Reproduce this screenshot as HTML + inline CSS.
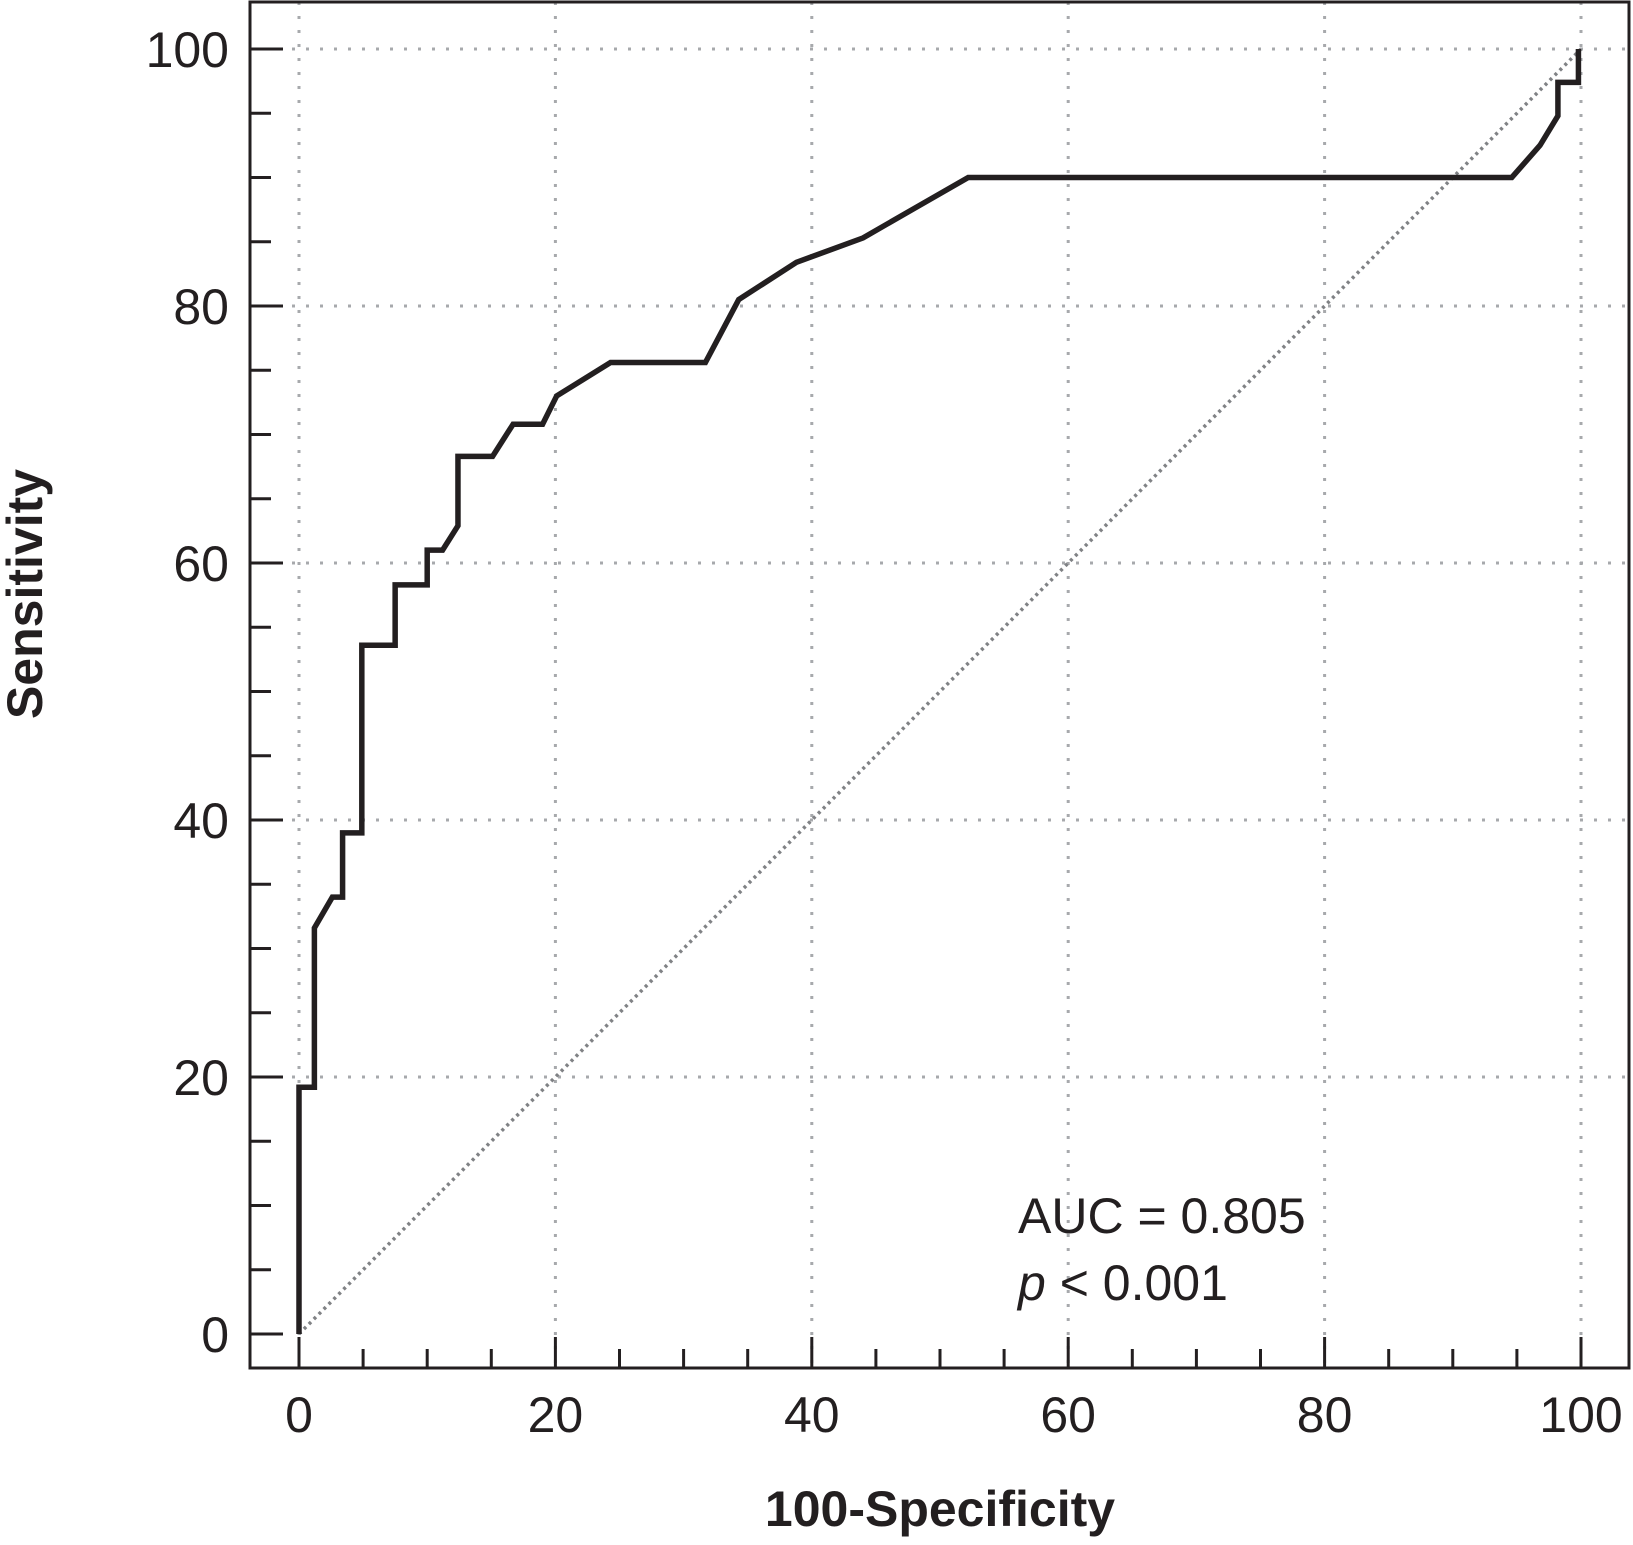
<!DOCTYPE html>
<html><head><meta charset="utf-8"><style>
html,body{margin:0;padding:0;background:#fff}
svg{display:block}
text{font-family:"Liberation Sans",sans-serif;fill:#231f20}
</style></head><body>
<svg id="chart" width="1633" height="1545" viewBox="0 0 1633 1545" xmlns="http://www.w3.org/2000/svg"></svg>
<script>
const xTicks=[0,20,40,60,80,100];
const yTicks=[0,20,40,60,80,100];
const rocX=[0,0,1.2,1.2,2.6,3.4,3.4,4.9,4.9,7.5,7.5,10,10,11.2,12.4,12.4,15.1,16.7,19,20.1,24.3,31.7,34.3,38.8,44,48,52.2,94.6,96.8,98.2,98.2,99.8,99.8];
const rocY=[0,19.2,19.2,31.6,34,34,39,39,53.6,53.6,58.3,58.3,61,61,62.9,68.3,68.3,70.8,70.8,73,75.6,75.6,80.5,83.4,85.3,87.6,90,90,92.5,94.8,97.4,97.4,100];
const refX=[0,100];
const refY=[0,100];
const svg=document.getElementById('chart');
const NS='http://www.w3.org/2000/svg';
const X=v=>299+v*12.82;
const Y=v=>1334-v*12.85;
function mk(t,a){const e=document.createElementNS(NS,t);for(const k in a)e.setAttribute(k,a[k]);svg.appendChild(e);return e;}
// grid
xTicks.forEach(v=>{const l=mk('line',{x1:X(v),x2:X(v),y1:2,y2:1368,stroke:'#a7a9ac','stroke-width':3,'stroke-dasharray':'3 11'});

});
yTicks.forEach(v=>{if(v===0)return;const l=mk('line',{x1:250,x2:1629,y1:Y(v),y2:Y(v),stroke:'#a7a9ac','stroke-width':3,'stroke-dasharray':'3 11'});

});
// reference diagonal
const d=mk('line',{x1:X(refX[0]),y1:Y(refY[0]),x2:X(refX[1]),y2:Y(refY[1]),stroke:'#808285','stroke-width':3.5,'stroke-dasharray':'3 4'});


// frame
const f=mk('rect',{x:250,y:2,width:1379,height:1366,fill:'none',stroke:'#231f20','stroke-width':3});


// ticks
for(let v=0;v<=100;v+=5){const maj=v%20===0;
const t=mk('line',{x1:X(v),x2:X(v),y1:1368,y2:maj?1337:1349,stroke:'#231f20','stroke-width':3});


const u=mk('line',{x1:250,x2:maj?283:271,y1:Y(v),y2:Y(v),stroke:'#231f20','stroke-width':3});

}
xTicks.forEach(v=>{const t=mk('text',{x:X(v),y:1432,'text-anchor':'middle','font-size':50});t.textContent=v;

});
yTicks.forEach(v=>{const t=mk('text',{x:229,y:Y(v)+18,'text-anchor':'end','font-size':50});t.textContent=v;

});
// ROC curve
const p=mk('polyline',{points:rocX.map((x,i)=>X(x)+','+Y(rocY[i])).join(' '),fill:'none',stroke:'#231f20','stroke-width':5.5,'stroke-linejoin':'miter'});


// titles
let t=mk('text',{x:940,y:1526,'text-anchor':'middle','font-size':50,'font-weight':'bold'});t.textContent='100-Specificity';


t=mk('text',{x:0,y:0,'text-anchor':'middle','font-size':50,'font-weight':'bold',transform:'translate(42,594) rotate(-90)'});t.textContent='Sensitivity';


t=mk('text',{x:1018,y:1233,'font-size':50});t.textContent='AUC = 0.805';


t=mk('text',{x:1018,y:1300,'font-size':50});t.innerHTML='<tspan font-style="italic">p</tspan> &lt; 0.001';


</script>
</body></html>
